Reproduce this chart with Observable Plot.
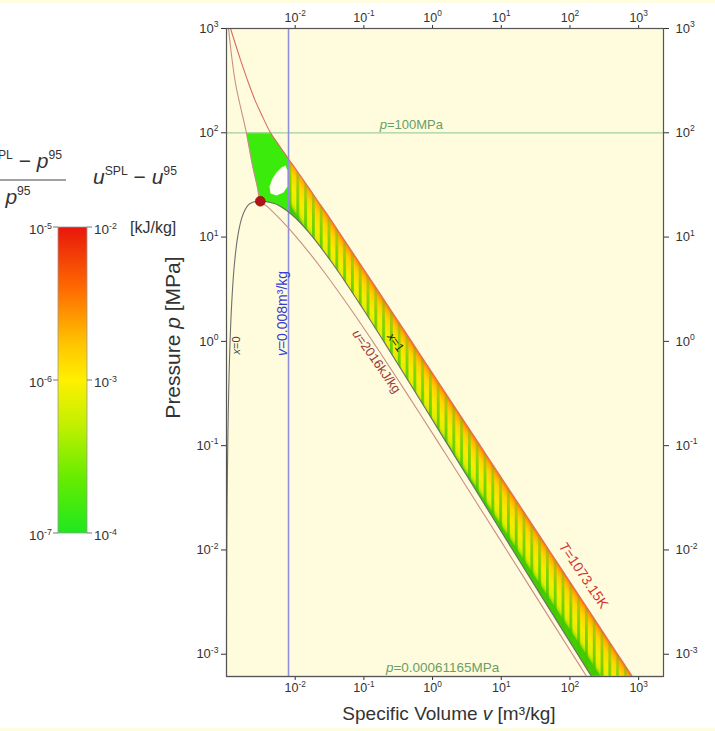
<!DOCTYPE html>
<html><head><meta charset="utf-8">
<script src="https://cdn.jsdelivr.net/npm/d3@7"></script>
<script src="https://cdn.jsdelivr.net/npm/@observablehq/plot@0.6"></script>
<style>
body{margin:0;background:#fff;font-family:"Liberation Sans",Arial,sans-serif;}
#wrap{position:relative;width:715px;height:731px;overflow:hidden;background:#fff;}
.strip{position:absolute;left:0;width:715px;background:#fffde0;}
#wrap svg{position:absolute;left:0;top:0;}
</style></head><body>
<div id="wrap"><div class="strip" style="top:0;height:3px"></div><div class="strip" style="top:728px;height:3px"></div></div>
<script>
// ---- tick values ----
const xTicks = [0.01, 0.1, 1, 10, 100, 1000];
const yTicks = [0.001, 0.01, 0.1, 1, 10, 100, 1000];
const legendLeftTicks = ["10^{-5}", "10^{-6}", "10^{-7}"];
const legendRightTicks = ["10^{-2}", "10^{-3}", "10^{-4}"];
const legendUnit = "[kJ/kg]";

// ---- saturation dome (p MPa, v m3/kg) ----
const satP  = [0.00061165, 0.001, 0.002, 0.005, 0.01, 0.02, 0.05, 0.1, 0.2, 0.5, 1, 2, 5, 10, 15, 18, 20, 21, 22, 22.064];
const satVf = [0.0010002, 0.0010001, 0.0010014, 0.0010053, 0.0010103, 0.0010172, 0.0010299, 0.0010432, 0.0010605, 0.0010925, 0.0011272, 0.0011767, 0.0012862, 0.0014522, 0.0016572, 0.0018399, 0.0020378, 0.002207, 0.002703, 0.003106];
const satVg = [205.99, 129.18, 66.99, 28.19, 14.67, 7.648, 3.240, 1.694, 0.8857, 0.3748, 0.19436, 0.09959, 0.03945, 0.018028, 0.010338, 0.007504, 0.005862, 0.004994, 0.003568, 0.003106];

// ---- isotherm T = 1073.15 K ----
const isoTP = [1000, 500, 300, 200, 150, 100, 80, 60, 56, 50, 40, 30, 20, 17.6, 15, 10, 5, 2, 1, 0.5, 0.2, 0.1, 0.05, 0.02, 0.01, 0.005, 0.002, 0.001, 0.00061165];
const isoTV = [0.001143, 0.0016, 0.00209, 0.002644, 0.003232, 0.004372, 0.0055, 0.007459, 0.008, 0.009076, 0.011523, 0.015623, 0.02385, 0.02752, 0.0324, 0.04859, 0.09811, 0.2467, 0.4943, 0.9896, 2.4753, 4.952, 9.9055, 24.76, 49.53, 99.06, 247.6, 495.3, 809.7];

// ---- isoline u = 2016 kJ/kg ----
const isoUP = [1000, 300, 100, 50, 30, 22.064, 20, 15, 10, 5, 2, 1, 0.5, 0.2, 0.1, 0.05, 0.02, 0.01, 0.005, 0.002, 0.001, 0.00061165];
const isoUV = [0.00107, 0.00135, 0.00195, 0.00237, 0.00282, 0.003106, 0.003774, 0.005951, 0.010413, 0.02415, 0.0657, 0.13423, 0.2688, 0.6615, 1.2968, 2.534, 6.122, 11.92, 23.2, 55.96, 108.97, 174.87];

// ---- deviation band (between x=1 / v=0.008 and T isotherm) ----
const bandP    = [56, 50, 40, 30, 20, 17.6, 15, 10, 5, 2, 1, 0.5, 0.2, 0.1, 0.05, 0.02, 0.01, 0.005, 0.002, 0.001, 0.00061165];
const bandVSat = [0.008, 0.008, 0.008, 0.008, 0.008, 0.008, 0.010338, 0.018028, 0.03945, 0.09959, 0.19436, 0.3748, 0.8857, 1.694, 3.240, 7.648, 14.67, 28.19, 66.99, 129.18, 205.99];
const bandVT   = [0.008, 0.009076, 0.011523, 0.015623, 0.02385, 0.02752, 0.0324, 0.04859, 0.09811, 0.2467, 0.4943, 0.9896, 2.4753, 4.952, 9.9055, 24.76, 49.53, 99.06, 247.6, 495.3, 809.7];

// ---- green region above the critical point ----
const greenV = [0.003106, 0.00282, 0.00237, 0.00195, 0.004372, 0.0055, 0.008, 0.008, 0.007504, 0.005862, 0.004994, 0.003568, 0.003106];
const greenP = [22.064, 30, 50, 100, 100, 80, 56, 17.6, 18, 20, 21, 22, 22.064];
const holeV = [0.004674, 0.005343, 0.006321, 0.007226, 0.007727, 0.007727, 0.006759, 0.005343, 0.004372, 0.004227];
const holeP = [36.45, 41.6, 46.5, 48.6, 43.5, 30.5, 26.8, 25.0, 26.2, 30.5];

const criticalV = [0.003106], criticalP = [22.064];
const pLimit = [100], pTriple = [0.00061165], vLimit = [0.008];

// ---- annotation labels (text, anchor v, anchor p) ----
const labelText = ["*p*=100MPa", "*p*=0.00061165MPa", "*v*=0.008m³/kg", "*x*=0", "*u*=2016kJ/kg", "*x*=1", "*T*=1073.15K"];
const labelV = [0.49, 1.4, 0.008, 0.0014, 0.1527, 0.2886, 157.4];
const labelP = [100, 0.00061165, 1.85, 0.913, 0.641, 0.975, 0.00569];
const xTitle = "Specific Volume *v* [m³/kg]";
const yTitle = "Pressure *p* [MPa]";

// ---- build tables ----
const pts = (V, P) => V.map((v, i) => ({v, p: P[i]}));
const dome = pts(satVf, satP).concat(pts(satVg, satP).reverse().slice(1));
const isoT = pts(isoTV, isoTP);
const isoU = pts(isoUV, isoUP);
const band = bandP.map((p, i) => ({p, vs: bandVSat[i], vt: bandVT[i]}));
const green = pts(greenV, greenP);
const hole = pts(holeV, holeP);
const crit = pts(criticalV, criticalP);
const lab = labelText.map((t, i) => ({t, v: labelV[i], p: labelP[i]}));

const fmt = d => `10^{${Math.round(Math.log10(d))}}`;
const FONT = '"Liberation Sans", Arial, sans-serif';
const NS = "http://www.w3.org/2000/svg";

const W = 715, H = 728, mL = 226, mR = 52, mT = 28, mB = 52;
const xDomain = [0.001, 2300], yDomain = [0.00061165, 1000];

const labelMark = (i, o) => Plot.text([lab[i]], {x: "v", y: "p", text: "t", fontFamily: FONT, ...o});

const plot = Plot.plot({
  width: W, height: H,
  marginLeft: mL, marginRight: mR, marginTop: mT, marginBottom: mB,
  style: {background: "transparent", fontFamily: FONT, overflow: "visible"},
  x: {type: "log", domain: xDomain},
  y: {type: "log", domain: yDomain},
  marks: [
    Plot.frame({fill: "#fefcdd", stroke: null}),
    Plot.line(green, {x: "v", y: "p", fill: "#3aeb0c", stroke: "#3aeb0c", strokeWidth: 0.5}),
    Plot.line(hole, {x: "v", y: "p", fill: "#fffff4", stroke: "none", curve: "linear-closed"}),
    Plot.areaX(band, {y: "p", x1: "vs", x2: "vt", fill: "url(#bandGrad)"}),
    Plot.areaX(band, {y: "p", x1: "vs", x2: "vt", fill: "url(#stripePat)", ariaDescription: "stripes"}),
    Plot.ruleY(pLimit, {stroke: "#a3cf9c", strokeWidth: 1.3}),
    Plot.ruleY(pTriple, {stroke: "#a3cf9c", strokeWidth: 1.3}),
    Plot.ruleX(vLimit, {stroke: "#8f8fe0", strokeWidth: 1.6}),
    Plot.line(isoU, {x: "v", y: "p", stroke: "#c98d86", strokeWidth: 1.1, curve: "catmull-rom"}),
    Plot.line(isoT, {x: "v", y: "p", stroke: "#e06a62", strokeWidth: 1.1, curve: "catmull-rom"}),
    Plot.line(dome, {x: "v", y: "p", stroke: "#6f6f6f", strokeWidth: 1.1, curve: "catmull-rom"}),
    Plot.dot(crit, {x: "v", y: "p", r: 5, fill: "#b01414", stroke: "#7a0a0a", strokeWidth: 0.5}),
    labelMark(0, {fill: "#6a9e66", fontSize: 13, dy: -8}),
    labelMark(1, {fill: "#6a9e66", fontSize: 13.5, dy: -9}),
    labelMark(2, {fill: "#3a3ad6", fontSize: 14, rotate: -90, dx: -6}),
    labelMark(3, {fill: "#444", fontSize: 11, rotate: -90}),
    labelMark(4, {fill: "#9b3a3a", fontSize: 13, rotate: 55}),
    labelMark(5, {fill: "#222", fontSize: 12, rotate: 55}),
    labelMark(6, {fill: "#d83434", fontSize: 14, rotate: 56}),
    Plot.axisX(xTicks, {anchor: "bottom", tickSize: 4, tickPadding: 3, tickFormat: fmt, fontSize: 12.5, label: null, color: "#333"}),
    Plot.axisX(xTicks, {anchor: "top", tickSize: 4, tickPadding: 3, tickFormat: fmt, fontSize: 12.5, label: null, color: "#333"}),
    Plot.axisY(yTicks, {anchor: "left", tickSize: 5, tickPadding: 3, tickFormat: fmt, fontSize: 13, label: null, color: "#333"}),
    Plot.axisY(yTicks, {anchor: "right", tickSize: 5, tickPadding: 7, tickFormat: fmt, fontSize: 13, label: null, color: "#333"}),
    Plot.text([xTitle], {frameAnchor: "bottom", dy: 43, dx: 4, fontSize: 19, fill: "#333", fontFamily: FONT}),
    Plot.text([yTitle], {frameAnchor: "left", textAnchor: "middle", dx: -53, dy: -15, rotate: -90, fontSize: 21, fill: "#333", fontFamily: FONT}),
    Plot.frame({stroke: "#555", strokeWidth: 1.2})
  ]
});

function richify(el, ratio = 0.65) {
  const s = el.textContent;
  if (!/[\*\^]/.test(s)) return;
  const fs = parseFloat(getComputedStyle(el).fontSize) || 12;
  while (el.firstChild) el.removeChild(el.firstChild);
  const parts = s.split(/(\*[^*]+\*|\^\{[^}]*\})/).filter(t => t !== "");
  let raised = false;
  for (const t of parts) {
    const ts = document.createElementNS(NS, "tspan");
    if (t.startsWith("^{")) {
      ts.textContent = t.slice(2, -1);
      ts.setAttribute("font-size", (fs * ratio).toFixed(1));
      if (!raised) { ts.setAttribute("dy", (-fs * 0.42).toFixed(1)); raised = true; }
    } else {
      if (t.startsWith("*")) { ts.textContent = t.slice(1, -1); ts.setAttribute("font-style", "italic"); }
      else ts.textContent = t;
      if (raised) { ts.setAttribute("dy", (fs * 0.42).toFixed(1)); raised = false; }
    }
    el.appendChild(ts);
  }
}

// ---- gradient / pattern definitions oriented with the plot's scales ----
const sx = plot.scale("x"), sy = plot.scale("y");
const i0 = bandP.indexOf(0.1), iA = bandP.indexOf(1), iB = bandP.indexOf(0.01);
const ax = sx.apply(bandVSat[i0]), ay = sy.apply(bandP[i0]), rx = sx.apply(bandVT[i0]);
let dx = sx.apply(bandVT[iB]) - sx.apply(bandVT[iA]), dy = sy.apply(bandP[iB]) - sy.apply(bandP[iA]);
const dl = Math.hypot(dx, dy); dx /= dl; dy /= dl;
const nx = dy, ny = -dx;
const w = (rx - ax) * nx;
const bx = ax + w * nx, by = ay + w * ny;
const stops = a => a.map(([o, c]) => `<stop offset="${o}" stop-color="${c}"/>`).join("");
const gstops = stops([[0, "#44cc00"], [0.05, "#a8e000"], [0.15, "#e2ec00"], [0.4, "#f8ec00"], [0.72, "#ffd400"], [0.9, "#ffac00"], [1, "#ff7000"]]);
const mstops = stops([[0, "#d2d2d2"], [0.5, "#a6a6a6"], [1, "#444444"]]);
const cstops = stops([[0, "#e8160c"], [0.2, "#ff6a00"], [0.38, "#ffc400"], [0.5, "#fff000"], [0.65, "#c0f000"], [0.82, "#66ec00"], [1, "#1ee81e"]]);
const defs = document.createElementNS(NS, "defs");
defs.innerHTML = `
<linearGradient id="bandGrad" gradientUnits="userSpaceOnUse" x1="${ax}" y1="${ay}" x2="${bx}" y2="${by}">${gstops}</linearGradient>
<linearGradient id="maskGrad" gradientUnits="userSpaceOnUse" x1="${ax}" y1="${ay}" x2="${bx}" y2="${by}">${mstops}</linearGradient>
<linearGradient id="cbar" x1="0" y1="0" x2="0" y2="1">${cstops}</linearGradient>
<pattern id="stripePat" patternUnits="userSpaceOnUse" x="0" y="0" width="7.8" height="12"><rect x="0" y="0" width="2.8" height="12" fill="#3fc800"/></pattern>
<mask id="stripeMask" maskUnits="userSpaceOnUse" x="0" y="0" width="${W}" height="${H}">
<rect x="0" y="0" width="${W}" height="${H}" fill="url(#maskGrad)"/>
</mask>`;
plot.insertBefore(defs, plot.firstChild);
document.getElementById("wrap").appendChild(plot);

const svg = d3.select(plot);
svg.select('g[aria-description="stripes"]').attr("mask", "url(#stripeMask)");

// ---- colour bar legend (left margin) ----
const L = svg.append("g").attr("font-family", FONT).attr("fill", "#333").attr("text-anchor", "start");
const cbTop = 227, cbBot = 533, cbL = 58, cbR = 87;
const cy = d3.scalePoint().domain(legendLeftTicks).range([cbTop, cbBot]);
L.append("rect").attr("x", cbL).attr("y", cbTop).attr("width", cbR - cbL).attr("height", cbBot - cbTop)
  .attr("fill", "url(#cbar)").attr("stroke", "#999").attr("stroke-width", 0.8);
legendLeftTicks.forEach((t, i) => {
  const y = cy(t);
  L.append("line").attr("x1", cbL - 5).attr("x2", cbL).attr("y1", y).attr("y2", y).attr("stroke", "#777");
  L.append("line").attr("x1", cbR).attr("x2", cbR + 5).attr("y1", y).attr("y2", y).attr("stroke", "#777");
  L.append("text").attr("x", cbL - 6).attr("y", y).attr("dy", "0.55em").attr("text-anchor", "end").attr("font-size", 13.5).text(t);
  L.append("text").attr("x", cbR + 7).attr("y", y).attr("dy", "0.55em").attr("text-anchor", "start").attr("font-size", 13.5).text(legendRightTicks[i]);
});
L.append("text").attr("x", 130).attr("y", cbTop).attr("dy", "0.38em").attr("text-anchor", "start").attr("font-size", 16).text(legendUnit);
// formula headings
L.append("text").attr("x", 62).attr("y", 168).attr("text-anchor", "end").attr("font-size", 21).text("*p*^{SPL} − *p*^{95}");
L.append("line").attr("x1", -35).attr("x2", 66).attr("y1", 180).attr("y2", 180).attr("stroke", "#444").attr("stroke-width", 1.2);
L.append("text").attr("x", 18).attr("y", 204).attr("text-anchor", "middle").attr("font-size", 21).text("*p*^{95}");
L.append("text").attr("x", 93).attr("y", 184).attr("text-anchor", "start").attr("font-size", 21).text("*u*^{SPL} − *u*^{95}");

plot.querySelectorAll("text").forEach(el => {
  const fs = parseFloat(getComputedStyle(el).fontSize);
  richify(el, fs > 18 ? 0.58 : 0.66);
});
</script></body></html>
